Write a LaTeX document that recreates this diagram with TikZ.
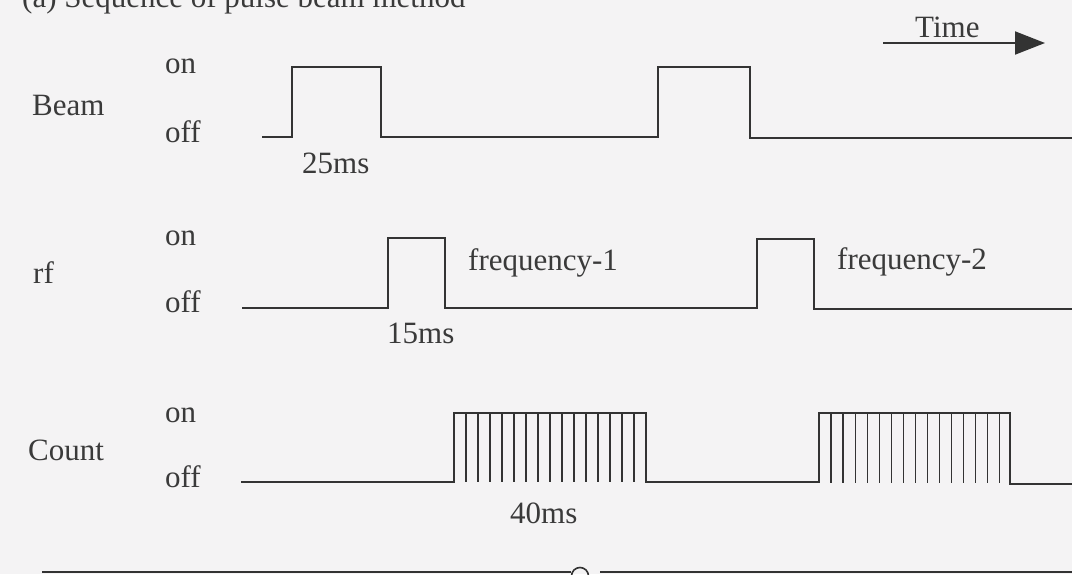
\documentclass[tikz,border=0pt]{standalone}
\usepackage{fontspec}
\setmainfont{Liberation Serif}
\usetikzlibrary{arrows.meta}
\definecolor{bg}{HTML}{F4F3F4}
\definecolor{ink}{HTML}{333333}
\definecolor{txt}{HTML}{3A3A3A}
\begin{document}
\begin{tikzpicture}[x=1pt,y=-1pt,
  lbl/.style={anchor=base west,inner sep=0pt,text=txt,font=\fontsize{31}{36}\selectfont},
  wave/.style={draw=ink,line width=2pt,line join=miter},
  tickline/.style={draw=ink,line width=1.3pt},
  axisline/.style={draw=ink,line width=2pt}]
\useasboundingbox (0,0) rectangle (1072,574);
\clip (0,0) rectangle (1072,574);
\fill[bg] (0,0) rectangle (1072,574);

% title (cut at top edge)
\node[lbl] (title) at (22,7) {(a) Sequence of pulse beam method};

% time arrow
\node[lbl] (time) at (915,37) {Time};
\coordinate (t0) at (883,43);
\coordinate (t1) at (1045,43);
\draw[axisline,-{Triangle[length=30pt,width=23pt]}] (t0) -- (t1);

% Beam
\node[lbl] (beam) at (32,115) {Beam};
\node[lbl] (beamon) at (165,73) {on};
\node[lbl] (beamoff) at (165,142) {off};
\node[lbl] (beamms) at (302,173) {25ms};
\draw[wave] (262,137) -- (292,137) -- (292,67) -- (381,67) -- (381,137)
  -- (658,137) -- (658,67) -- (750,67) -- (750,138) -- (1072,138);

% rf
\node[lbl] (rf) at (33,283) {rf};
\node[lbl] (rfon) at (165,245) {on};
\node[lbl] (rfoff) at (165,312) {off};
\node[lbl] (rfms) at (387,343) {15ms};
\node[lbl] (f1) at (468,270) {frequency-1};
\node[lbl] (f2) at (837,269) {frequency-2};
\draw[wave] (242,308) -- (388,308) -- (388,238) -- (445,238) -- (445,308)
  -- (757,308) -- (757,239) -- (814,239) -- (814,309) -- (1072,309);

% Count
\node[lbl] (count) at (28,460) {Count};
\node[lbl] (counton) at (165,422) {on};
\node[lbl] (countoff) at (165,487) {off};
\node[lbl] (countms) at (510,523) {40ms};
\draw[wave] (241,482) -- (454,482) -- (454,413) -- (646,413) -- (646,482)
  -- (819,482) -- (819,413) -- (1010,413) -- (1010,484) -- (1072,484);
\foreach \i in {1,...,15} {
  \draw[tickline] ({454+12*\i},413) -- ({454+12*\i},482);
  \draw[tickline] ({819+12.05*\i},413) -- ({819+12.05*\i},483);
}

% bottom rule with small circle
\node[draw=ink,line width=1.6pt,circle,minimum size=17pt,inner sep=0pt] (ring) at (580,576) {};
\coordinate (b0) at (42,572);
\coordinate (b1) at (1072,572);
\draw[axisline] (b0) -- (ring.west |- b0);
\draw[axisline] ([xshift=11pt]ring.east |- b1) -- (b1);
\end{tikzpicture}
\end{document}
